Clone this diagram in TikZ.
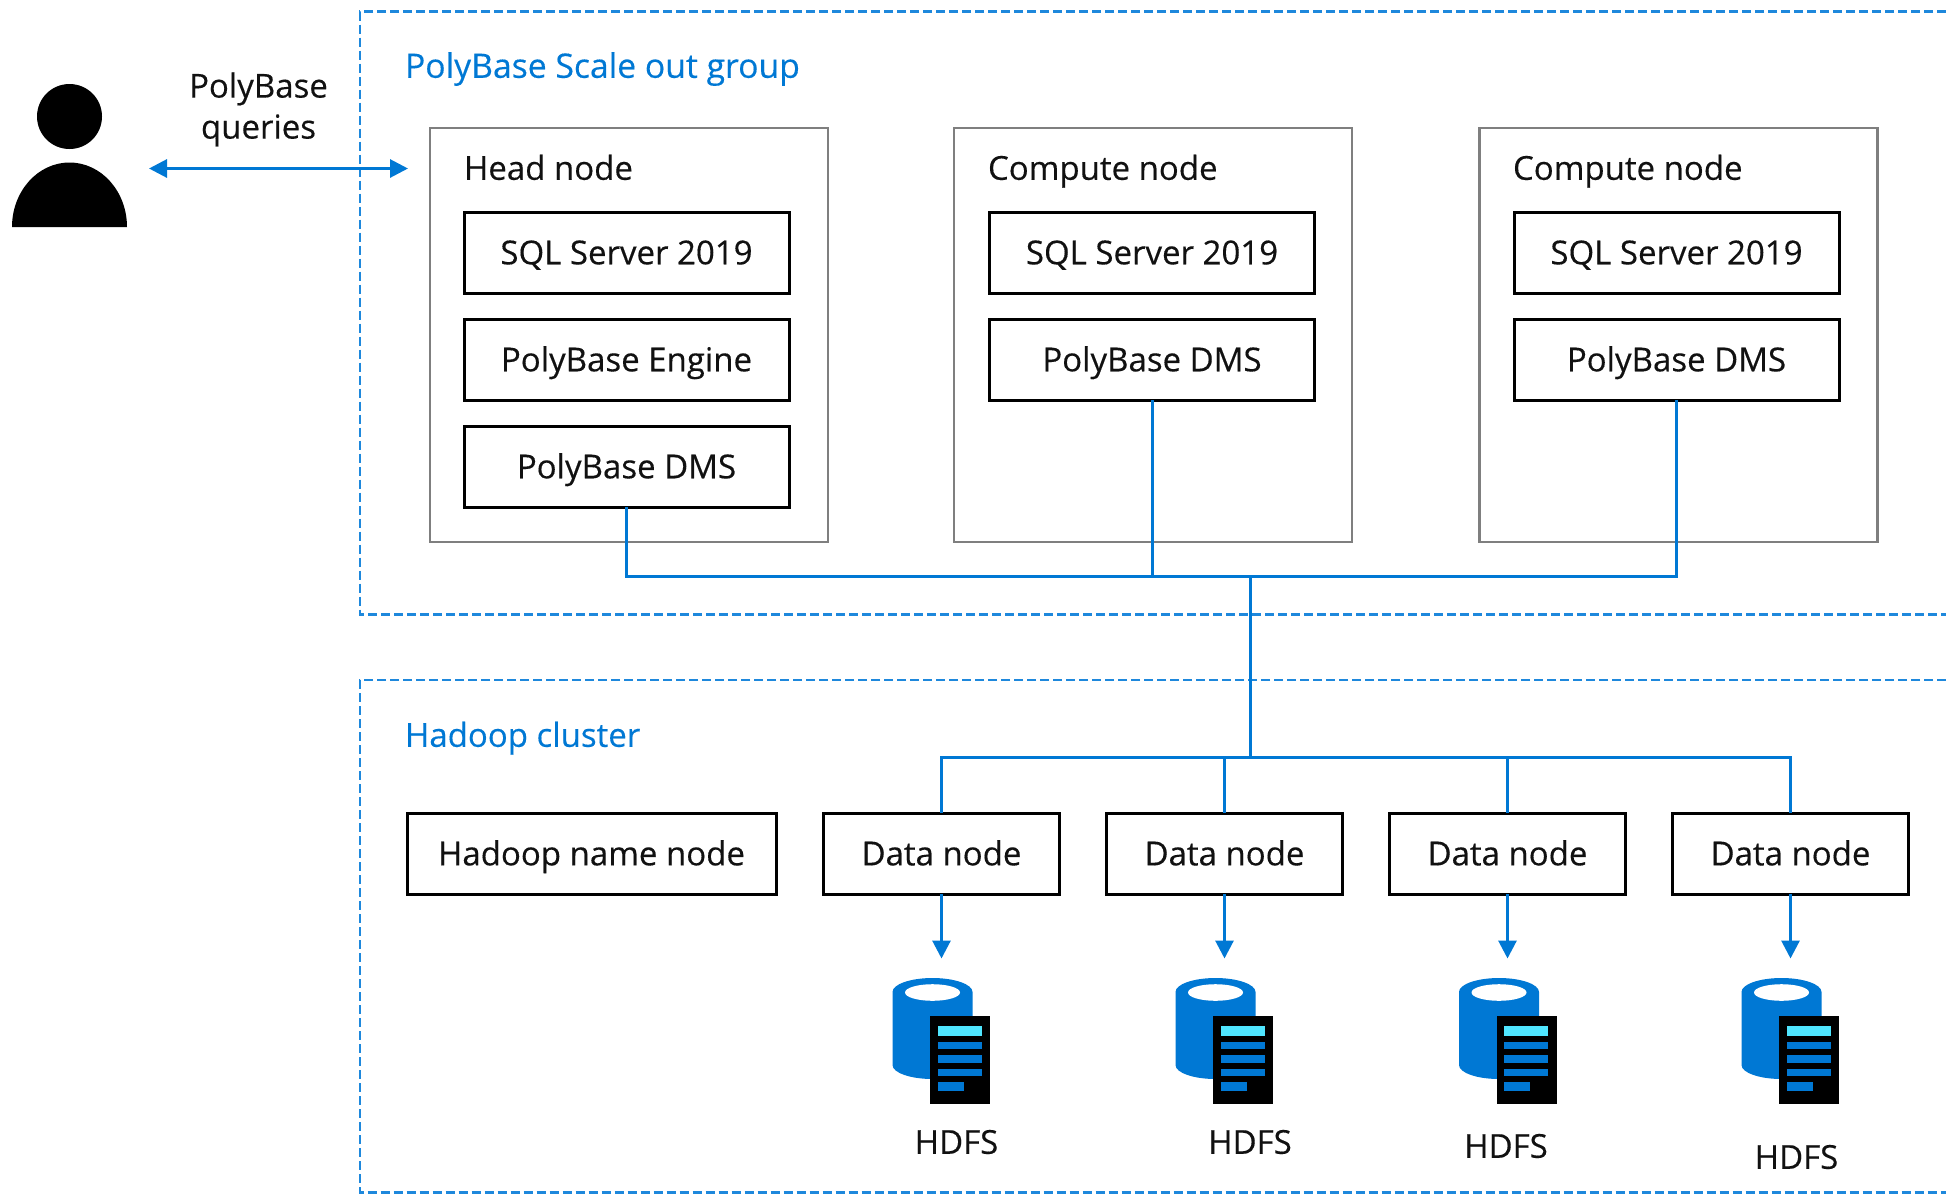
\documentclass[tikz,border=0pt]{standalone}
\usepackage{fontspec}
\setmainfont{Open Sans}[RawFeature={embolden=0.35}]
\usetikzlibrary{arrows.meta}
\definecolor{azure}{HTML}{0078D4}
\definecolor{dashblue}{HTML}{1E88DC}
\definecolor{skycyan}{HTML}{50E6FF}
\definecolor{boxgrey}{HTML}{7F7F7F}
\definecolor{ink}{HTML}{111111}
\newcommand{\bodytext}{\fontsize{33}{41}\selectfont}
\newcommand{\hdfsicon}[2]{%
  \begin{scope}[shift={(#1,#2)}]
    \fill[azure] (0,14) arc[start angle=180,end angle=360,x radius=40,y radius=14]
      -- (80,87) arc[start angle=0,end angle=180,x radius=40,y radius=14] -- cycle;
    \fill[white] (40,14.5) ellipse[x radius=27.5,y radius=8.3];
    \fill[black] (37.5,38) rectangle (97.5,126);
    \fill[skycyan] (45,48) rectangle (89,58);
    \fill[azure] (45,63.5) rectangle (89,71);
    \fill[azure] (45,77) rectangle (89,84.5);
    \fill[azure] (45,90.7) rectangle (89,98);
    \fill[azure] (45,104) rectangle (71,113);
  \end{scope}}
\tikzset{
  x=1pt,y=-1pt,
  group/.style={draw=dashblue,line width=2.5pt,dash pattern=on 9pt off 4pt},
  conn/.style={draw=azure,line width=3pt},
  dblhead/.style={conn,{Triangle[length=18pt,width=18pt]}-{Triangle[length=18pt,width=18pt]}},
  downhead/.style={conn,-{Triangle[length=18pt,width=18pt]}},
  frame/.style={draw=boxgrey,line width=2.5pt,outer sep=0pt,inner sep=0pt},
  capbox/.style={text height=23.6pt,text depth=0pt},
  comp/.style={capbox,draw=black,line width=3pt,fill=white,outer sep=0pt,inner sep=0pt,
    minimum width=325pt,minimum height=81pt,font=\bodytext,text=ink},
  datab/.style={comp,minimum width=235.5pt},
  plainlabel/.style={font=\bodytext,text=ink,inner sep=0pt,outer sep=0pt},
  grouplabel/.style={capbox,font=\bodytext,text=azure,anchor=west,inner sep=0pt,outer sep=0pt},
  nodetitle/.style={capbox,plainlabel,anchor=west},
  filelabel/.style={capbox,plainlabel},
}
\begin{document}
\begin{tikzpicture}
\useasboundingbox (0,0) rectangle (1946,1194);
% groups
\draw[group] (1946,11.5) -- (360,11.5) -- (360,614.5) -- (1946,614.5);
\draw[group] (1946,680) -- (360,680) -- (360,1192.5) -- (1946,1192.5);
\node[grouplabel,font=\fontsize{33.7}{41}\selectfont] (g1) at (405,66) {PolyBase Scale out group};
\node[grouplabel] (g2) at (405,735) {Hadoop cluster};
% person
\fill[black] (69.5,116.5) ellipse[x radius=32.5,y radius=32.5];
\fill[black] (12,227) arc[start angle=180,end angle=360,x radius=57.5,y radius=64.5] -- cycle;
\coordinate (userEnd) at (149,168.5);
\node[plainlabel,align=center] (pq) at (258.5,109.5) {PolyBase\\queries};
% frames
\node[frame,minimum width=398pt,minimum height=414pt] (head) at (629,335) {};
\node[frame,minimum width=398pt,minimum height=414pt] (c1) at (1153,335) {};
\node[frame,minimum width=398pt,minimum height=414pt] (c2) at (1678.5,335) {};
\coordinate (headEnd) at (408,168.5);
\draw[dblhead] (userEnd) -- (headEnd);
\node[nodetitle] (th) at (464,168) {Head node};
\node[nodetitle] (t1) at (988,168) {Compute node};
\node[nodetitle] (t2) at (1513,168) {Compute node};
% head components
\node[comp] (sqlH) at (626.5,252.5) {SQL Server 2019};
\node[comp] (engH) at (626.5,359.5) {PolyBase Engine};
\node[comp] (dmsH) at (626.5,466.5) {PolyBase DMS};
\node[comp] (sqlA) at (1152,252.5) {SQL Server 2019};
\node[comp] (dmsA) at (1152,359.5) {PolyBase DMS};
\node[comp] (sqlB) at (1676.5,252.5) {SQL Server 2019};
\node[comp] (dmsB) at (1676.5,359.5) {PolyBase DMS};
% data row
\node[comp,minimum width=369pt] (name) at (591.5,853.5) {Hadoop name node};
\node[datab] (d1) at (941.5,853.5) {Data node};
\node[datab] (d2) at (1224.5,853.5) {Data node};
\node[datab] (d3) at (1507.5,853.5) {Data node};
\node[datab] (d4) at (1790.5,853.5) {Data node};
% bus
\coordinate (hubUp) at (1250,576);
\coordinate (hubDown) at (1250,757);
\draw[conn] (dmsH.south) |- (hubUp);
\draw[conn] (dmsA.south) |- (hubUp);
\draw[conn] (dmsB.south) |- (hubUp);
\draw[conn] (hubUp) -- (hubDown);
\draw[conn] (d1.north) |- (hubDown);
\draw[conn] (d2.north) |- (hubDown);
\draw[conn] (d3.north) |- (hubDown);
\draw[conn] (d4.north) |- (hubDown);
% arrows
\coordinate (a1) at (941.5,958.5);
\coordinate (a2) at (1224.5,958.5);
\coordinate (a3) at (1507.5,958.5);
\coordinate (a4) at (1790.5,958.5);
\draw[downhead] (d1.south) -- (a1);
\draw[downhead] (d2.south) -- (a2);
\draw[downhead] (d3.south) -- (a3);
\draw[downhead] (d4.south) -- (a4);
% icons
\hdfsicon{892.5}{978}
\hdfsicon{1175.5}{978}
\hdfsicon{1459}{978}
\hdfsicon{1741.5}{978}
\node[filelabel] (h1) at (956.5,1142) {HDFS};
\node[filelabel] (h2) at (1250,1142) {HDFS};
\node[filelabel] (h3) at (1506,1146) {HDFS};
\node[filelabel] (h4) at (1796.5,1157) {HDFS};
\end{tikzpicture}
\end{document}
